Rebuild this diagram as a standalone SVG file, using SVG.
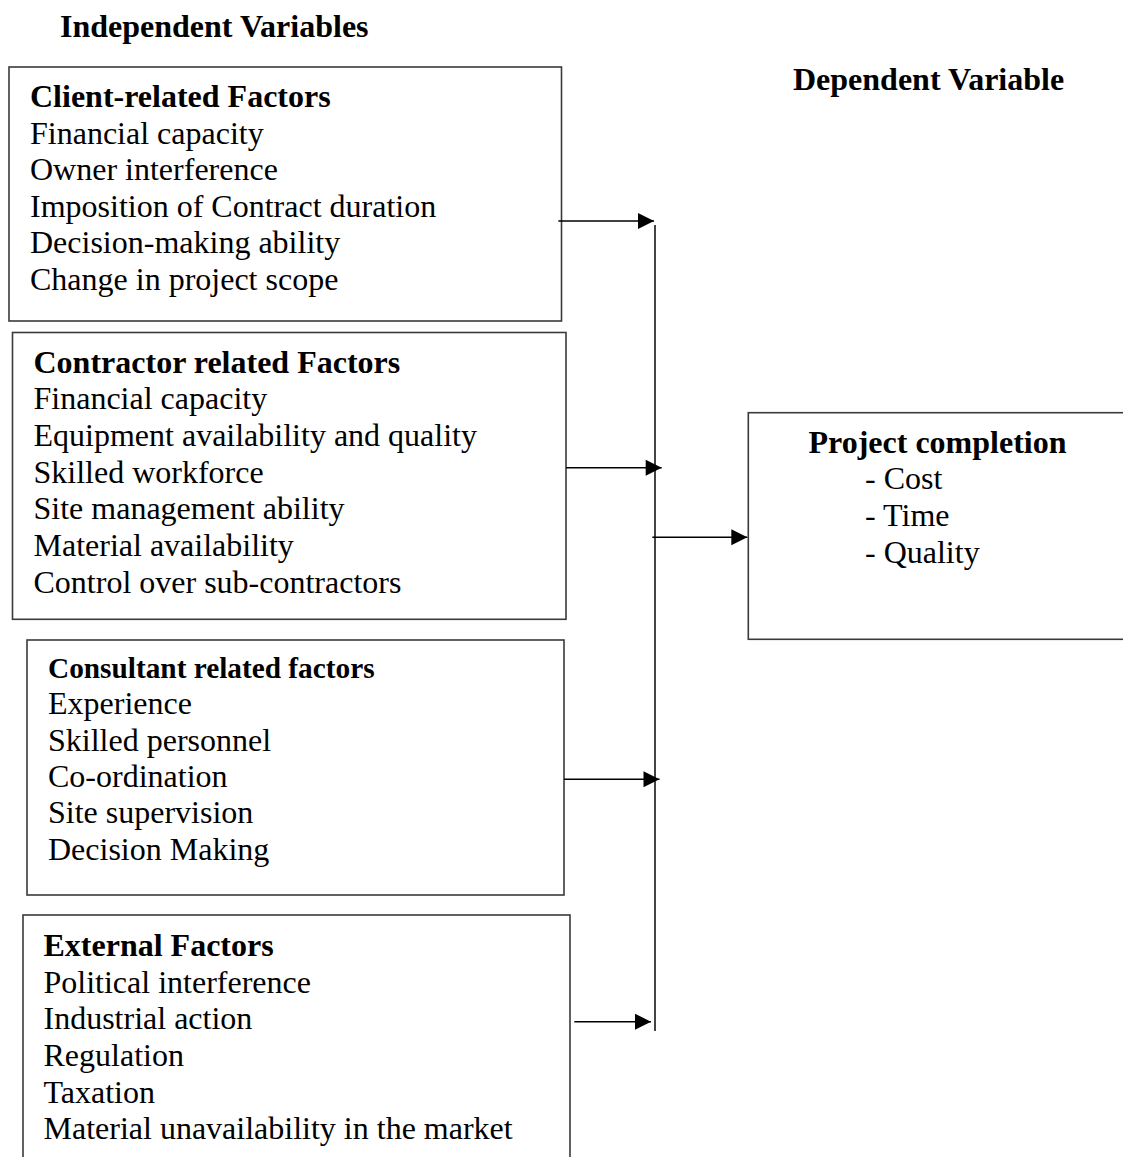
<svg xmlns="http://www.w3.org/2000/svg" width="1123" height="1157" viewBox="0 0 1123 1157">
<style>
  text { font-family: "Liberation Serif", "Times New Roman", serif; font-size: 32px; fill: #000; }
  .b { font-weight: bold; }
  .box { fill: #fff; stroke: #3a3a3a; stroke-width: 1.6; }
  .conn { stroke: #000; stroke-width: 1.6; fill: none; }
  .bus { stroke: #444; stroke-width: 2; fill: none; }
</style>
<defs>
  <marker id="arr" markerUnits="userSpaceOnUse" markerWidth="18" markerHeight="18" refX="16" refY="8" orient="auto" style="overflow:visible">
    <path d="M0,0 L16,8 L0,16 Z" fill="#000"/>
  </marker>
</defs>
<rect width="1123" height="1157" fill="#fff"/>

<g id="titles">
  <text class="b" x="60" y="37">Independent Variables</text>
  <text class="b" x="793" y="90">Dependent Variable</text>
</g>

<g id="client">
  <rect class="box" x="9" y="67" width="552.5" height="254"/>
  <text class="b" x="30" y="106.5">Client-related Factors</text>
  <text x="30" y="143.5">Financial capacity</text>
  <text x="30" y="180">Owner interference</text>
  <text x="30" y="216.5">Imposition of Contract duration</text>
  <text x="30" y="253">Decision-making ability</text>
  <text x="30" y="289.5">Change in project scope</text>
</g>

<g id="contractor">
  <rect class="box" x="12.5" y="332.5" width="553.5" height="286.8"/>
  <text class="b" x="33.5" y="372.5">Contractor related Factors</text>
  <text x="33.5" y="409.3">Financial capacity</text>
  <text x="33.5" y="446">Equipment availability and quality</text>
  <text x="33.5" y="482.5">Skilled workforce</text>
  <text x="33.5" y="519.3">Site management ability</text>
  <text x="33.5" y="556">Material availability</text>
  <text x="33.5" y="592.7">Control over sub-contractors</text>
</g>

<g id="consultant">
  <rect class="box" x="27" y="640" width="537" height="255"/>
  <text class="b" x="48" y="677.5" style="font-size:29.3px">Consultant related factors</text>
  <text x="48" y="714">Experience</text>
  <text x="48" y="750.5">Skilled personnel</text>
  <text x="48" y="786.7">Co-ordination</text>
  <text x="48" y="823.3">Site supervision</text>
  <text x="48" y="860">Decision Making</text>
</g>

<g id="external">
  <rect class="box" x="23" y="915" width="547" height="260"/>
  <text class="b" x="43.5" y="956">External Factors</text>
  <text x="43.5" y="992.5">Political interference</text>
  <text x="43.5" y="1029.3">Industrial action</text>
  <text x="43.5" y="1066">Regulation</text>
  <text x="43.5" y="1102.5">Taxation</text>
  <text x="43.5" y="1139.3">Material unavailability in the market</text>
</g>

<g id="project">
  <rect class="box" x="748.3" y="412.7" width="400" height="226.6"/>
  <text class="b" x="808.5" y="452.7">Project completion</text>
  <text x="865" y="489.3">- Cost</text>
  <text x="865" y="526">- Time</text>
  <text x="865" y="562.7">- Quality</text>
</g>

<g id="connectors">
  <line class="bus" x1="655" y1="225" x2="655" y2="1031"/>
  <line class="conn" x1="558.3" y1="221" x2="654" y2="221" marker-end="url(#arr)"/>
  <line class="conn" x1="566" y1="467.7" x2="661.7" y2="467.7" marker-end="url(#arr)"/>
  <line class="conn" x1="564" y1="779.3" x2="659.5" y2="779.3" marker-end="url(#arr)"/>
  <line class="conn" x1="574.3" y1="1021.7" x2="651" y2="1021.7" marker-end="url(#arr)"/>
  <line class="conn" x1="652.3" y1="537.3" x2="747.3" y2="537.3" marker-end="url(#arr)"/>
</g>
</svg>
